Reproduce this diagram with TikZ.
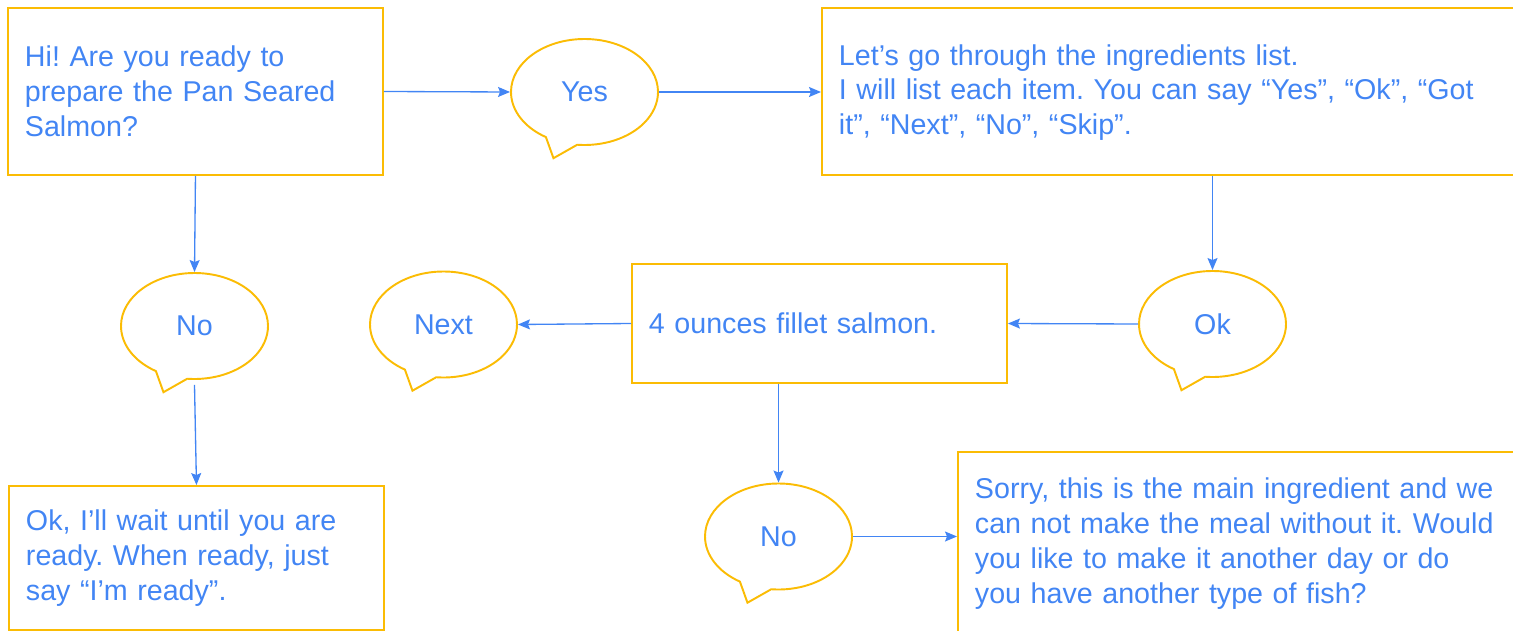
\documentclass[tikz,border=0pt]{standalone}
\usepackage{fontspec}
\setmainfont{Liberation Sans}
\usepackage{tikz}
\usetikzlibrary{arrows.meta,positioning,calc,shapes.callouts}
\definecolor{talkblue}{RGB}{66,133,244}
\definecolor{talkorange}{RGB}{251,188,4}
\frenchspacing

\begin{document}
\begin{tikzpicture}[>={Stealth[length=2.4mm,width=2mm,inset=0.4mm]},
  font=\fontsize{16.3}{19.9}\selectfont,
  say box/.style={draw=talkorange,line width=1.1pt,text=talkblue,align=left,inner xsep=0.34cm,inner ysep=0pt},
  reply/.style={ellipse callout,draw=talkorange,line width=1.1pt,text=talkblue,fill=white,inner sep=0pt,
    minimum width=2.94cm,minimum height=2.12cm,callout relative pointer={(-0.15,-0.32)},callout pointer arc=26},
  link/.style={->,draw=talkblue,line width=0.75pt}]
  \clip (0,0) rectangle (30.26,-12.62);

  \node[say box,anchor=west,text width=6.82cm,minimum height=3.34cm] (start) at (0.14,-1.83)
    {Hi! Are you ready to\\prepare the Pan Seared\\Salmon?};
  \node[reply] (yes) at (11.69,-1.84) {Yes};
  \node[say box,anchor=west,text width=14.4cm,minimum height=3.34cm] (list) at (16.42,-1.83)
    {\rule{0pt}{0.8em}Let’s go through the ingredients list.\\I will list each item. You can say “Yes”, “Ok”, “Got\\it”, “Next”, “No”, “Skip”.};
  \node[reply] (ok) at (24.25,-6.48) {Ok};
  \node[say box,anchor=west,text width=6.82cm,minimum height=2.38cm] (salmon) at (12.62,-6.47)
    {4 ounces fillet salmon.};
  \node[reply] (next) at (8.87,-6.49) {Next};
  \node[reply] (noA) at (3.89,-6.52) {No};
  \node[say box,anchor=west,text width=6.82cm,minimum height=2.88cm] (wait) at (0.16,-11.16)
    {Ok, I’ll wait until you are\\ready. When ready, just\\say “I’m ready”.};
  \node[reply] (noB) at (15.57,-10.73) {No};
  \node[say box,anchor=west,text width=11.68cm,minimum height=3.66cm] (sorry) at (19.14,-10.87)
    {Sorry, this is the main ingredient and we\\can not make the meal without it. Would\\you like to make it another day or do\\you have another type of fish?};

  \draw[link] (start.east) -- (yes.west);
  \draw[link] (yes.east) -- (yes.east -| list.west);
  \draw[link] (ok.north |- list.south) -- (ok.north);
  \draw[link] (ok.west) -- (salmon.east);
  \draw[link] (salmon.west) -- (next.east);
  \draw[link] (start.south) -- (noA.north);
  \draw[link] ($(noA.south)+(0,-0.1)$) -- (wait.north);
  \draw[link] (noB.north |- salmon.south) -- (noB.north);
  \draw[link] (noB.east) -- (noB.east -| sorry.west);
\end{tikzpicture}
\end{document}
